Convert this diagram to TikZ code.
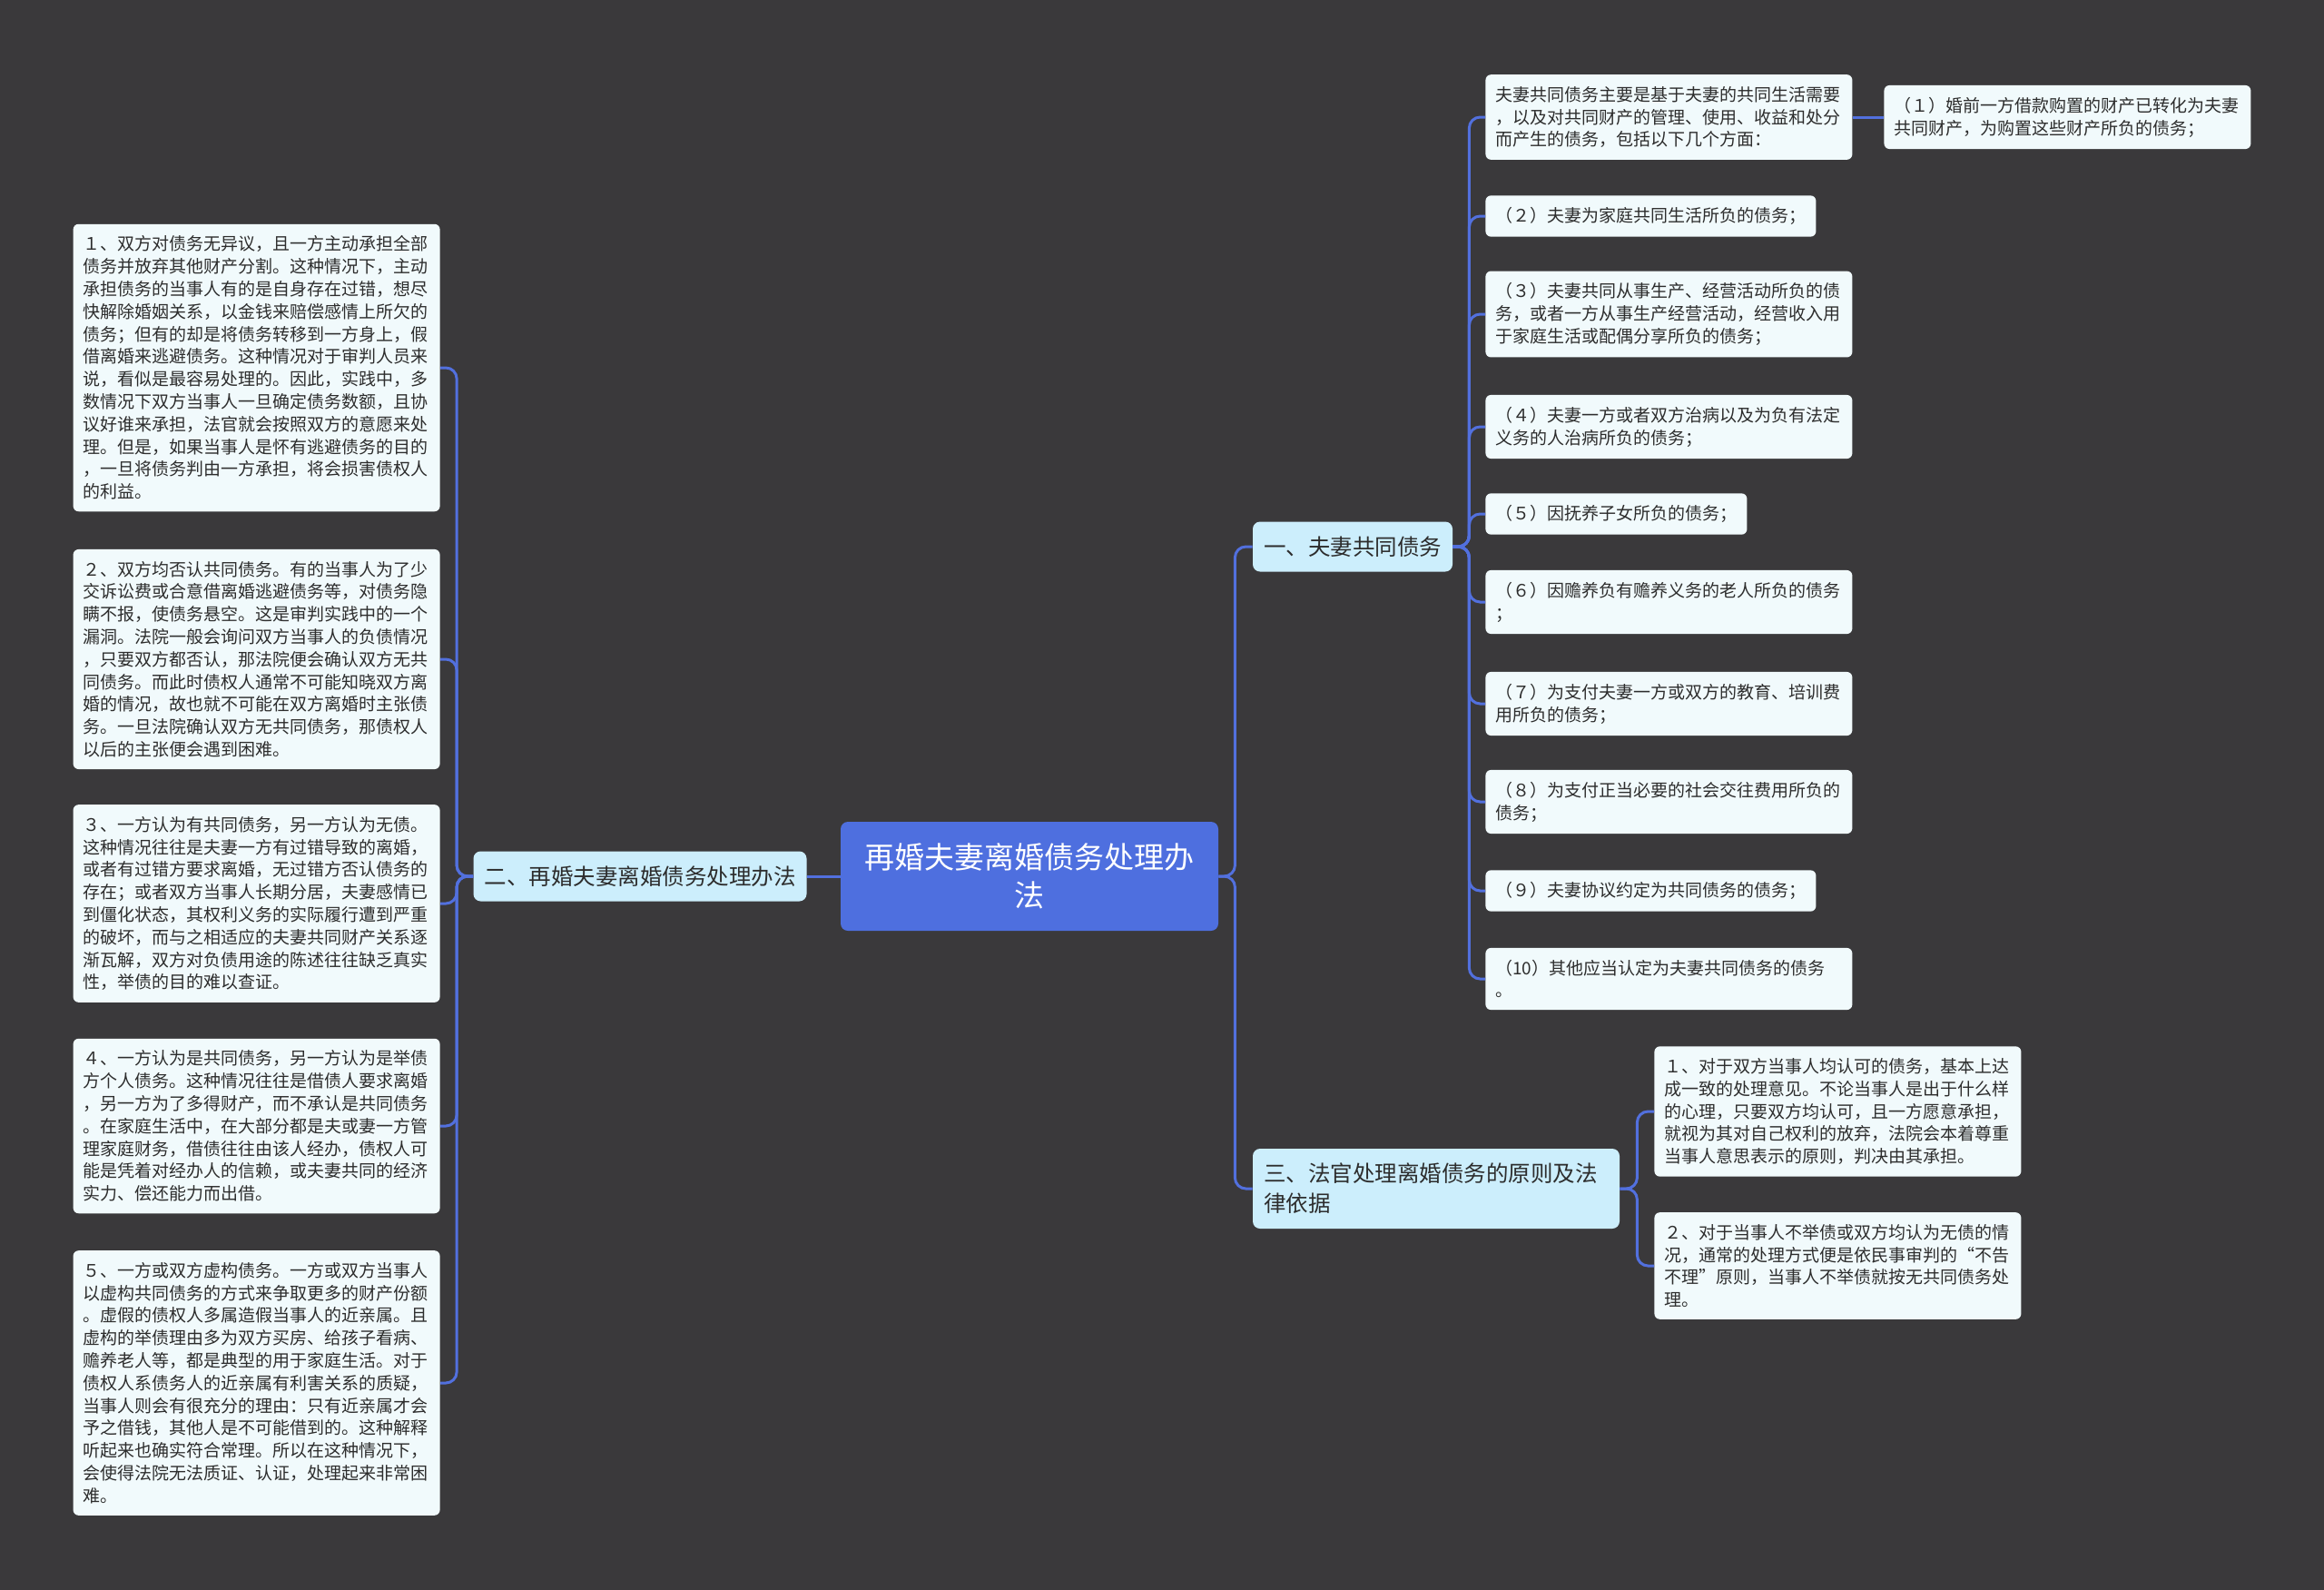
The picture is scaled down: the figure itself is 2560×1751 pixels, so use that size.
\documentclass[tikz,border=0pt]{standalone}
\usepackage{fontspec}
\setmainfont{Noto Sans CJK SC}
\usepackage{xcolor}
\definecolor{bgdark}{RGB}{58,57,59}
\definecolor{rootblue}{RGB}{78,111,223}
\definecolor{branchblue}{RGB}{204,238,252}
\definecolor{leafwhite}{RGB}{241,250,252}
\definecolor{linkblue}{RGB}{82,112,222}
\definecolor{inkgray}{RGB}{45,45,45}

\begin{document}
\begin{tikzpicture}[
    x=0.5pt, y=-0.5pt,
    root/.style={rectangle, rounded corners=4pt, fill=rootblue, text=white, align=center, minimum width=208pt, minimum height=60pt, font=\fontsize{16.5pt}{21pt}\selectfont},
    branch/.style={rectangle, rounded corners=4pt, fill=branchblue, text=inkgray, align=left, inner xsep=6pt, minimum height=27.5pt, font=\fontsize{12.25pt}{16.5pt}\selectfont},
    leaf/.style={rectangle, rounded corners=3pt, fill=leafwhite, text=inkgray, align=left, inner xsep=5.5pt, inner ysep=6.5pt, font=\fontsize{9.5pt}{12.4pt}\selectfont},
    wide/.style={text width=191pt},
    link/.style={draw=linkblue, line width=1.5pt, rounded corners=6pt}
]
\fill[bgdark] (0,0) rectangle (2560,1751);

% Root and main branches
\node[root] (root) at (1134,965) {再婚夫妻离婚债务处理办\\法};
\node[branch] (b1) at (1490,602) {一、夫妻共同债务};
\node[branch] (b2) at (705,965) {二、再婚夫妻离婚债务处理办法};
\node[branch, text width=190pt, minimum height=44pt] (b3) at (1582,1309) {三、法官处理离婚债务的原则及法\\律依据};

% Branch one: common debts
\node[leaf, wide, anchor=west] (r0) at (1636,129) {夫妻共同债务主要是基于夫妻的共同生活需要\\，以及对共同财产的管理、使用、收益和处分\\而产生的债务，包括以下几个方面：};
\node[leaf, wide, anchor=west] (r1) at (2075,129) {（１）婚前一方借款购置的财产已转化为夫妻\\共同财产，为购置这些财产所负的债务；};
\node[leaf, anchor=west] (r2) at (1636,238) {（２）夫妻为家庭共同生活所负的债务；};
\node[leaf, wide, anchor=west] (r3) at (1636,346) {（３）夫妻共同从事生产、经营活动所负的债\\务，或者一方从事生产经营活动，经营收入用\\于家庭生活或配偶分享所负的债务；};
\node[leaf, wide, anchor=west] (r4) at (1636,470) {（４）夫妻一方或者双方治病以及为负有法定\\义务的人治病所负的债务；};
\node[leaf, anchor=west] (r5) at (1636,566) {（５）因抚养子女所负的债务；};
\node[leaf, wide, anchor=west] (r6) at (1636,663) {（６）因赡养负有赡养义务的老人所负的债务\\；};
\node[leaf, wide, anchor=west] (r7) at (1636,775) {（７）为支付夫妻一方或双方的教育、培训费\\用所负的债务；};
\node[leaf, wide, anchor=west] (r8) at (1636,883) {（８）为支付正当必要的社会交往费用所负的\\债务；};
\node[leaf, anchor=west] (r9) at (1636,981) {（９）夫妻协议约定为共同债务的债务；};
\node[leaf, wide, anchor=west] (r10) at (1636,1078) {（10）其他应当认定为夫妻共同债务的债务\\。};

% Branch two: handling methods
\node[leaf, wide, anchor=east] (l1) at (485,405) {１、双方对债务无异议，且一方主动承担全部\\债务并放弃其他财产分割。这种情况下，主动\\承担债务的当事人有的是自身存在过错，想尽\\快解除婚姻关系，以金钱来赔偿感情上所欠的\\债务；但有的却是将债务转移到一方身上，假\\借离婚来逃避债务。这种情况对于审判人员来\\说，看似是最容易处理的。因此，实践中，多\\数情况下双方当事人一旦确定债务数额，且协\\议好谁来承担，法官就会按照双方的意愿来处\\理。但是，如果当事人是怀有逃避债务的目的\\，一旦将债务判由一方承担，将会损害债权人\\的利益。};
\node[leaf, wide, anchor=east] (l2) at (485,726) {２、双方均否认共同债务。有的当事人为了少\\交诉讼费或合意借离婚逃避债务等，对债务隐\\瞒不报，使债务悬空。这是审判实践中的一个\\漏洞。法院一般会询问双方当事人的负债情况\\，只要双方都否认，那法院便会确认双方无共\\同债务。而此时债权人通常不可能知晓双方离\\婚的情况，故也就不可能在双方离婚时主张债\\务。一旦法院确认双方无共同债务，那债权人\\以后的主张便会遇到困难。};
\node[leaf, wide, anchor=east] (l3) at (485,995) {３、一方认为有共同债务，另一方认为无债。\\这种情况往往是夫妻一方有过错导致的离婚，\\或者有过错方要求离婚，无过错方否认债务的\\存在；或者双方当事人长期分居，夫妻感情已\\到僵化状态，其权利义务的实际履行遭到严重\\的破坏，而与之相适应的夫妻共同财产关系逐\\渐瓦解，双方对负债用途的陈述往往缺乏真实\\性，举债的目的难以查证。};
\node[leaf, wide, anchor=east] (l4) at (485,1240) {４、一方认为是共同债务，另一方认为是举债\\方个人债务。这种情况往往是借债人要求离婚\\，另一方为了多得财产，而不承认是共同债务\\。在家庭生活中，在大部分都是夫或妻一方管\\理家庭财务，借债往往由该人经办，债权人可\\能是凭着对经办人的信赖，或夫妻共同的经济\\实力、偿还能力而出借。};
\node[leaf, wide, anchor=east] (l5) at (485,1523) {５、一方或双方虚构债务。一方或双方当事人\\以虚构共同债务的方式来争取更多的财产份额\\。虚假的债权人多属造假当事人的近亲属。且\\虚构的举债理由多为双方买房、给孩子看病、\\赡养老人等，都是典型的用于家庭生活。对于\\债权人系债务人的近亲属有利害关系的质疑，\\当事人则会有很充分的理由：只有近亲属才会\\予之借钱，其他人是不可能借到的。这种解释\\听起来也确实符合常理。所以在这种情况下，\\会使得法院无法质证、认证，处理起来非常困\\难。};

% Branch three: principles
\node[leaf, wide, anchor=west] (t1) at (1822,1224) {１、对于双方当事人均认可的债务，基本上达\\成一致的处理意见。不论当事人是出于什么样\\的心理，只要双方均认可，且一方愿意承担，\\就视为其对自己权利的放弃，法院会本着尊重\\当事人意思表示的原则，判决由其承担。};
\node[leaf, wide, anchor=west] (t2) at (1822,1394) {２、对于当事人不举债或双方均认为无债的情\\况，通常的处理方式便是依民事审判的“不告\\不理”原则，当事人不举债就按无共同债务处\\理。};

% Connectors
\draw[link] (root.east) -- ++(9pt,0) |- (b1.west);
\draw[link] (root.east) -- ++(9pt,0) |- (b3.west);
\draw[link] (root.west) -- (b2.east);

\draw[link] (b1.east) -- ++(9pt,0) |- (r0.west);
\draw[link] (r0.east) -- (r1.west);
\draw[link] (b1.east) -- ++(9pt,0) |- (r2.west);
\draw[link] (b1.east) -- ++(9pt,0) |- (r3.west);
\draw[link] (b1.east) -- ++(9pt,0) |- (r4.west);
\draw[link] (b1.east) -- ++(9pt,0) |- (r5.west);
\draw[link] (b1.east) -- ++(9pt,0) |- (r6.west);
\draw[link] (b1.east) -- ++(9pt,0) |- (r7.west);
\draw[link] (b1.east) -- ++(9pt,0) |- (r8.west);
\draw[link] (b1.east) -- ++(9pt,0) |- (r9.west);
\draw[link] (b1.east) -- ++(9pt,0) |- (r10.west);

\draw[link] (b2.west) -- ++(-9pt,0) |- (l1.east);
\draw[link] (b2.west) -- ++(-9pt,0) |- (l2.east);
\draw[link] (b2.west) -- ++(-9pt,0) |- (l3.east);
\draw[link] (b2.west) -- ++(-9pt,0) |- (l4.east);
\draw[link] (b2.west) -- ++(-9pt,0) |- (l5.east);

\draw[link] (b3.east) -- ++(9.5pt,0) |- (t1.west);
\draw[link] (b3.east) -- ++(9.5pt,0) |- (t2.west);
\end{tikzpicture}
\end{document}
